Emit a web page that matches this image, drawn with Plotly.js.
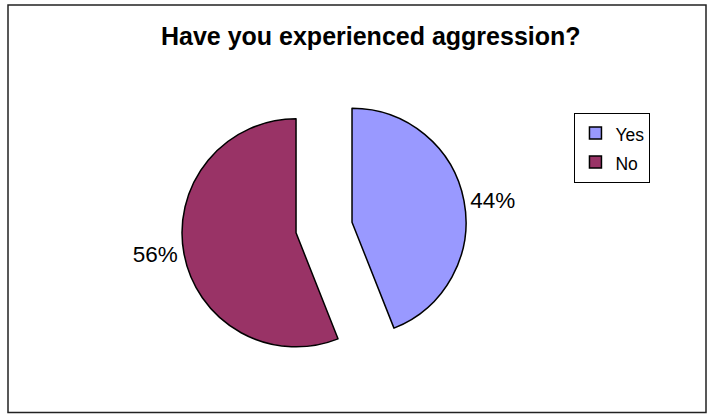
<!DOCTYPE html>
<html>
<head>
<meta charset="utf-8">
<script src="https://cdn.plot.ly/plotly-3.0.1.min.js"></script>
<style>html,body{margin:0;padding:0;background:#fff;}#chart{width:713px;height:414px;}</style>
</head>
<body>
<div id="chart"></div>
<script>
var categories = ["Yes", "No"];
var values = [44, 56];
var colors = ["#9999FF", "#993366"];
var titleText = "Have you experienced aggression?";

var legendNames = categories.map(function (c) { return '<span style="font-size:17.5px">' + c + '</span>'; });

var trace = {
  type: "pie",
  labels: legendNames,
  values: values,
  sort: false,
  direction: "clockwise",
  rotation: 0,
  pull: [0.25, 0.25],
  marker: { colors: colors, line: { color: "#000000", width: 1.5 } },
  textinfo: "percent",
  textposition: "outside",
  textfont: { family: "Liberation Sans, Arial, sans-serif", size: 22.5, color: "#000000" },
  hoverinfo: "label+percent",
  domain: { x: [0.2546, 0.6543], y: [0.1063, 0.7947] }
};

var layout = {
  width: 713,
  height: 414,
  margin: { l: 0, r: 0, t: 0, b: 0 },
  paper_bgcolor: "#ffffff",
  font: { family: "Liberation Sans, Arial, sans-serif", color: "#000000" },
  title: {
    text: "<b>" + titleText + "</b>",
    font: { family: "Liberation Sans, Arial, sans-serif", size: 25, color: "#000000" },
    x: 0.52, xref: "paper", xanchor: "center",
    y: 0.913, yref: "paper", yanchor: "middle"
  },
  showlegend: true,
  legend: {
    x: 0.859, xanchor: "center",
    y: 0.728, yanchor: "top",
    bordercolor: "#000000",
    borderwidth: 1,
    bgcolor: "#ffffff",
    font: { family: "Liberation Sans, Arial, sans-serif", size: 20, color: "#000000" }
  },
  shapes: [{
    type: "rect", xref: "paper", yref: "paper",
    x0: 8 / 713, x1: 706 / 713, y0: 1 - 412.5 / 414, y1: 1 - 5 / 414,
    line: { color: "#222222", width: 1.5 }, fillcolor: "rgba(0,0,0,0)"
  }]
};

Plotly.newPlot("chart", [trace], layout, { displayModeBar: false, staticPlot: true });
</script>
</body>
</html>
